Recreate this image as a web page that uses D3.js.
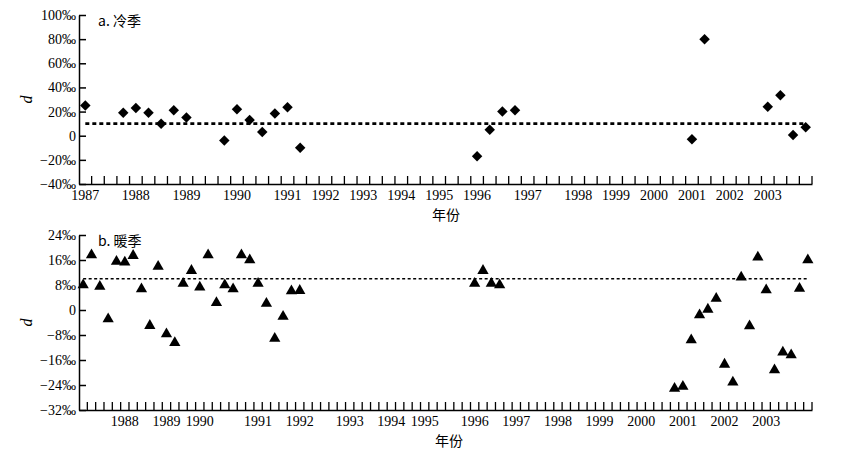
<!DOCTYPE html>
<html>
<head>
<meta charset="utf-8">
<script src="https://cdn.jsdelivr.net/npm/d3@7"></script>
<style>
  body { margin: 0; background: #fff; }
</style>
</head>
<body>
<svg id="chart" width="843" height="456"></svg>
<script>
// sample year of every category on the x axis (one category per sample)
var coldYears = [
  1987,1987,1987,1987, 1988,1988,1988,1988, 1989,1989,1989,1989, 1990,1990,1990,1990,
  1991,1991,1991, 1992,1992,1992, 1993,1993,1993, 1994,1994,1994, 1995,1995,1995,
  1996,1996,1996,1996, 1997,1997,1997,1997, 1998,1998,1998, 1999,1999,1999,
  2000,2000,2000, 2001,2001,2001, 2002,2002,2002, 2003,2003,2003,2003
];
// cold season d (permil), null = no sample
var coldValues = [
  25, null, null, 19, 23, 19, 10, 21, 15, null, null, -4, 22, 13, 3, 18.5,
  23.5, -10, null, null, null, null, null, null, null, null, null, null, null, null, null,
  -17, 5, 20, 21, null, null, null, null, null, null, null, null, null, null,
  null, null, null, -3, 80, null, null, null, null, 24, 33.5, 0.5, 7
];
var coldMean = 10;

var warmYears = [
  1987,1987,1987,1987,1987, 1988,1988,1988,1988,1988, 1989,1989,1989,1989,
  1990,1990,1990,1990,1990,1990,1990, 1991,1991,1991,1991,1991,
  1992,1992,1992,1992,1992,1992, 1993,1993,1993,1993,1993, 1994,1994,1994,1994,
  1995,1995,1995,1995,1995,1995, 1996,1996,1996,1996,1996, 1997,1997,1997,1997,1997,
  1998,1998,1998,1998,1998, 1999,1999,1999,1999,1999, 2000,2000,2000,2000,2000,
  2001,2001,2001,2001,2001, 2002,2002,2002,2002,2002, 2003,2003,2003,2003,2003,2003
];
var warmValues = [
  8, 17.6, 7.5, -2.9, 15.5, 15.3, 17.4, 6.7, -5, 13.9, -7.7, -10.5, 8.5, 12.6,
  7.3, 17.6, 2.3, 8, 6.7, 17.6, 16, 8.5, 2.1, -9.1, -2.1, 6.1,
  6.2, null, null, null, null, null, null, null, null, null, null, null, null, null, null,
  null, null, null, null, null, null, 8.5, 12.6, 8.5, 8, null, null, null, null, null,
  null, null, null, null, null, null, null, null, null, null, null, null, null, null, null,
  -25.1, -24.5, -9.6, -1.6, 0.2, 3.7, -17.4, -23.1, 10.5, -5.1, 16.9, 6.4, -19.2, -13.5, -14.4, 6.9, 16
];
var warmMean = 10;

var coldTicks = [100, 80, 60, 40, 20, 0, -20, -40];
var warmTicks = [24, 16, 8, 0, -8, -16, -24, -32];

var SERIF = "'Liberation Serif', 'DejaVu Serif', serif";
var CJK = "'Noto Sans CJK SC', sans-serif";

var svg = d3.select("#chart");

function permil(v) {
  if (v === 0) return "0";
  return (v < 0 ? "\u2212" + (-v) : v) + "\u2030";
}

function panel(opt) {
  var g = svg.append("g");
  var n = opt.years.length;

  var x = d3.scaleBand()
    .domain(d3.range(n))
    .range([79, 812]);
  var y = d3.scaleLinear()
    .domain([opt.ticks[opt.ticks.length - 1], opt.ticks[0]])
    .range([opt.bottom, opt.top]);

  // y axis, ticks pointing into the plot
  var yAxis = d3.axisLeft(y)
    .tickValues(opt.ticks)
    .tickFormat(permil)
    .tickSize(-7)
    .tickSizeOuter(0)
    .tickPadding(3);
  var ya = g.append("g")
    .attr("transform", "translate(79,0)")
    .call(yAxis)
    .attr("font-family", SERIF)
    .attr("font-size", 14);
  ya.selectAll("text").attr("fill", "#000");
  ya.selectAll("line, path").attr("stroke", "#000").attr("stroke-width", 1.5);

  // x axis: one tick at every category boundary, year label at first sample of year
  var labelIdx = d3.range(n).filter(function (i) {
    return (i === 0 || opt.years[i] !== opt.years[i - 1]) && opt.hide.indexOf(opt.years[i]) < 0;
  });
  var xAxis = d3.axisBottom(x)
    .tickValues(labelIdx)
    .tickFormat(function (i) { return opt.years[i]; })
    .tickSize(0)
    .tickSizeOuter(0)
    .tickPadding(6);
  var xa = g.append("g")
    .attr("transform", "translate(0," + opt.bottom + ")")
    .call(xAxis)
    .attr("font-family", SERIF)
    .attr("font-size", 14);
  xa.selectAll("text").attr("fill", "#000");
  xa.select(".domain").attr("stroke", "#000").attr("stroke-width", 1.5);

  g.append("g").selectAll("line")
    .data(d3.range(1, n + 1))
    .enter().append("line")
    .attr("x1", function (i) { return i < n ? x(i) : x.range()[1]; })
    .attr("x2", function (i) { return i < n ? x(i) : x.range()[1]; })
    .attr("y1", opt.bottom)
    .attr("y2", opt.bottom - 8)
    .attr("stroke", "#000")
    .attr("stroke-width", 1.3);

  // mean line
  var cx = function (i) { return x(i) + x.bandwidth() / 2; };
  g.append("path")
    .datum(d3.range(n))
    .attr("d", d3.line().x(cx).y(function () { return y(opt.mean); }))
    .attr("fill", "none")
    .attr("stroke", "#000")
    .attr("stroke-width", opt.dashWidth)
    .attr("stroke-dasharray", opt.dash);

  // points
  var pts = opt.values.map(function (v, i) { return { i: i, v: v }; })
    .filter(function (d) { return d.v !== null; });
  g.append("g").selectAll("path")
    .data(pts)
    .enter().append("path")
    .attr("d", d3.symbol().type(opt.symbol).size(opt.size))
    .attr("transform", function (d) {
      return "translate(" + cx(d.i) + "," + y(d.v) + ")" + (opt.rotate ? " rotate(45)" : "");
    })
    .attr("fill", "#000");

  // titles
  g.append("text")
    .attr("font-family", CJK)
    .attr("font-size", 14)
    .attr("x", 98)
    .attr("y", opt.top + 11)
    .text(opt.title);
  g.append("text")
    .attr("font-family", SERIF)
    .attr("font-style", "italic")
    .attr("font-size", 16)
    .attr("transform", "translate(32," + ((opt.top + opt.bottom) / 2) + ") rotate(-90)")
    .attr("text-anchor", "middle")
    .text("d");
  g.append("text")
    .attr("font-family", CJK)
    .attr("font-size", 14)
    .attr("x", opt.xTitle)
    .attr("y", opt.bottom + 36)
    .attr("text-anchor", "middle")
    .text("年份");
}

panel({
  years: coldYears, values: coldValues, mean: coldMean, ticks: coldTicks,
  top: 15, bottom: 184, hide: [], title: "a. 冷季",
  symbol: d3.symbolSquare, size: 55, rotate: true,
  dash: "4,3", dashWidth: 2.8, xTitle: 446
});
panel({
  years: warmYears, values: warmValues, mean: warmMean, ticks: warmTicks,
  top: 235, bottom: 410, hide: [1987], title: "b. 暖季",
  symbol: d3.symbolTriangle, size: 55, rotate: false,
  dash: "3,2.5", dashWidth: 1.5, xTitle: 449
});
</script>
</body>
</html>
